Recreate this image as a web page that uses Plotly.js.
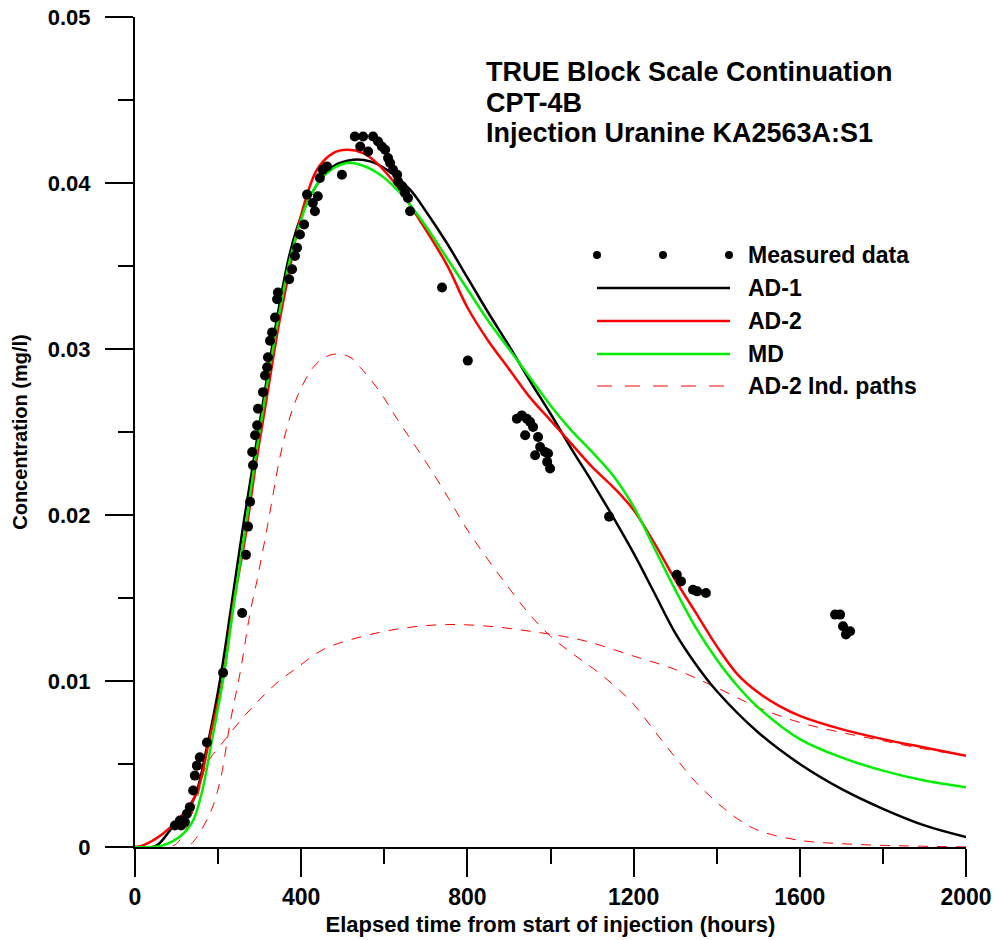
<!DOCTYPE html>
<html>
<head>
<meta charset="utf-8">
<script src="https://cdn.plot.ly/plotly-3.0.1.min.js"></script>
<style>
html,body{margin:0;padding:0;background:#fff;}
#chart{width:994px;height:940px;}
</style>
</head>
<body>
<div id="chart"></div>
<script>
// ---- Data (hours, mg/l) ----
const measuredT = [96,108,111,120,125,132,140,144,149,156,173,212,258,267,272,277,282,284,289,294,296,308,313,318,320,325,330,337,342,344,371,378,385,390,397,407,414,428,433,440,445,452,462,498,529,542,549,561,573,585,594,602,609,614,621,631,633,643,650,657,662,739,801,919,931,939,943,951,958,963,970,975,987,992,994,999,1141,1304,1314,1343,1353,1374,1685,1697,1704,1711,1721];
const measuredC = [0.0013,0.0016,0.0013,0.0015,0.0020,0.0024,0.0034,0.0043,0.0049,0.0054,0.0063,0.0105,0.0141,0.0176,0.0193,0.0208,0.0238,0.0230,0.0248,0.0254,0.0264,0.0274,0.0284,0.0289,0.0295,0.0305,0.0310,0.0319,0.0330,0.0334,0.0342,0.0348,0.0356,0.0361,0.0369,0.0375,0.0393,0.0388,0.0383,0.0392,0.0403,0.0408,0.0410,0.0405,0.0428,0.0422,0.0428,0.0419,0.0428,0.0425,0.0422,0.0420,0.0415,0.0412,0.0408,0.0405,0.0401,0.0398,0.0394,0.0391,0.0383,0.0337,0.0293,0.0258,0.0260,0.0248,0.0258,0.0256,0.0253,0.0236,0.0247,0.0241,0.0238,0.0232,0.0237,0.0228,0.0199,0.0164,0.0160,0.0155,0.0154,0.0153,0.0140,0.0140,0.0133,0.0128,0.0130];

const ad1T = [0,50,90,140,173,205,230,260,290,318,345,373,400,438,477,525,566,606,662,700,750,800,850,900,950,1000,1050,1100,1150,1200,1250,1300,1350,1400,1500,1600,1700,1800,1900,2000];
const ad1C = [0,0.00006,0.0012,0.0028,0.0060,0.0101,0.0142,0.0193,0.0240,0.0283,0.0323,0.0358,0.0380,0.0399,0.0410,0.0414,0.0413,0.0408,0.0396,0.0383,0.0364,0.0343,0.0322,0.0302,0.0281,0.0261,0.0240,0.0220,0.0199,0.0177,0.0153,0.0129,0.0110,0.0094,0.0069,0.0050,0.0035,0.0023,0.0013,0.0006];

const ad2T = [0,19,67,116,149,180,212,236,265,290,318,345,373,397,438,477,510,549,582,631,679,750,800,850,900,950,1000,1050,1100,1150,1200,1250,1300,1350,1400,1450,1500,1550,1600,1700,1800,1900,2000];
const ad2C = [0,0.0001,0.0008,0.0020,0.0033,0.0066,0.0102,0.0145,0.0186,0.0229,0.0272,0.0313,0.0349,0.0378,0.0408,0.0418,0.0420,0.0418,0.0412,0.0398,0.0380,0.0351,0.0325,0.0305,0.0288,0.0271,0.0257,0.0243,0.0229,0.0217,0.0203,0.0183,0.0161,0.0141,0.0121,0.0104,0.0093,0.0085,0.0079,0.0071,0.0065,0.0060,0.0055];

const mdT = [0,67,116,140,161,185,212,240,265,292,320,347,373,400,421,462,510,542,590,638,700,750,800,850,900,950,1000,1050,1100,1150,1200,1250,1300,1350,1400,1450,1500,1600,1700,1800,1900,2000];
const mdC = [0,0.0001,0.0008,0.0016,0.0033,0.0064,0.0101,0.0150,0.0191,0.0238,0.0282,0.0321,0.0354,0.0378,0.0392,0.0406,0.0412,0.0411,0.0405,0.0394,0.0374,0.0355,0.0336,0.0317,0.0300,0.0283,0.0266,0.0251,0.0238,0.0224,0.0205,0.0180,0.0155,0.0132,0.0113,0.0097,0.0084,0.0065,0.0054,0.0046,0.0040,0.0036];

const path1T = [0,120,136,180,205,229,253,277,294,320,349,373,397,429,457,486,518,542,590,633,700,750,800,850,900,950,1000,1050,1100,1150,1200,1250,1300,1350,1400,1450,1500,1600,1700,1800,2000];
const path1C = [0,0,0.0002,0.0020,0.0040,0.0075,0.0105,0.0141,0.0161,0.0195,0.0235,0.0259,0.0275,0.0289,0.0295,0.0297,0.0295,0.0289,0.0274,0.0257,0.0232,0.0212,0.0191,0.0173,0.0156,0.0140,0.0127,0.0117,0.0108,0.0098,0.0086,0.0070,0.0054,0.0039,0.0027,0.0017,0.0010,0.0004,0.0002,0.0001,0];

const path2T = [0,80,100,125,150,173,221,260,293,342,390,453,550,650,750,850,950,1050,1100,1200,1300,1400,1500,1600,1700,1800,1900,2000];
const path2C = [0,0,0.0002,0.0012,0.0030,0.0050,0.0066,0.0078,0.0087,0.0099,0.0108,0.0119,0.0127,0.0132,0.0134,0.0133,0.0130,0.0126,0.0123,0.0115,0.0107,0.0096,0.0084,0.0075,0.0069,0.0064,0.0059,0.0055];

const xTicks = [0,400,800,1200,1600,2000];
const yTicks = [0,0.01,0.02,0.03,0.04,0.05];
const titleLines = ["TRUE Block Scale Continuation","CPT-4B","Injection Uranine KA2563A:S1"];
const legendNames = ["Measured data","AD-1","AD-2","MD","AD-2 Ind. paths"];

// ---- Layout geometry ----
const W = 994, H = 940;
const L = 135, R = 28, T = 17, B = 93;
const PW = W - L - R, PH = H - T - B;
const px = x => (x - L) / PW;          // pixel -> paper x
const py = y => (H - B - y) / PH;      // pixel -> paper y

const BOLD = "Liberation Sans, Arial, sans-serif";

const lineShape = {shape: 'spline', smoothing: 1};
const traces = [
  {x: path1T, y: path1C, mode: 'lines', line: Object.assign({color: '#ff0000', width: 1, dash: '10px,9px'}, lineShape), showlegend: false},
  {x: path2T, y: path2C, mode: 'lines', line: Object.assign({color: '#ff0000', width: 1, dash: '10px,9px'}, lineShape), showlegend: false},
  {x: ad1T, y: ad1C, mode: 'lines', line: Object.assign({color: '#000000', width: 2.5}, lineShape), showlegend: false},
  {x: ad2T, y: ad2C, mode: 'lines', line: Object.assign({color: '#ff0000', width: 2.5}, lineShape), showlegend: false},
  {x: mdT, y: mdC, mode: 'lines', line: Object.assign({color: '#00ee00', width: 2.5}, lineShape), showlegend: false},
  {x: measuredT, y: measuredC, mode: 'markers', marker: {color: '#000000', size: 10}, showlegend: false}
];

// ---- Legend (drawn manually) ----
const legRows = [255, 288, 321, 354, 386];
const legX0 = 597, legX1 = 730, legText = 748;
const shapes = [];
const annotations = [];
[597, 663, 729].forEach(cx => {
  shapes.push({type: 'circle', xref: 'paper', yref: 'paper',
    x0: px(cx - 4), x1: px(cx + 4), y0: py(legRows[0] + 4), y1: py(legRows[0] - 4),
    fillcolor: '#000', line: {width: 0}});
});
const legStyles = [
  {color: '#000000', width: 2.5, dash: 'solid'},
  {color: '#ff0000', width: 2.5, dash: 'solid'},
  {color: '#00ee00', width: 2.5, dash: 'solid'},
  {color: '#ff0000', width: 1, dash: '15px,13px'}
];
legStyles.forEach((st, i) => {
  shapes.push({type: 'line', xref: 'paper', yref: 'paper',
    x0: px(legX0), x1: px(legX1), y0: py(legRows[i + 1]), y1: py(legRows[i + 1]), line: st});
});
legendNames.forEach((name, i) => {
  annotations.push({text: name, xref: 'paper', yref: 'paper', x: px(legText - 2), y: py(legRows[i]),
    xanchor: 'left', yanchor: 'middle', showarrow: false,
    font: {family: BOLD, size: 23, color: '#000', weight: 'bold'}});
});
const titleY = [72, 103, 133];
titleLines.forEach((t, i) => {
  annotations.push({text: t, xref: 'paper', yref: 'paper', x: px(484), y: py(titleY[i]),
    xanchor: 'left', yanchor: 'middle', showarrow: false,
    font: {family: BOLD, size: 27, color: '#000', weight: 'bold'}});
});

const layout = {
  width: W, height: H,
  margin: {l: L, r: R, t: T, b: B, pad: 0},
  paper_bgcolor: '#fff', plot_bgcolor: '#fff',
  showlegend: false,
  xaxis: {
    range: [0, 2000], tickvals: xTicks, ticktext: xTicks.map(String),
    showgrid: false, zeroline: false, showline: true, linecolor: '#000', linewidth: 2,
    ticks: 'outside', ticklen: 28, tickwidth: 2, tickcolor: '#000',
    minor: {dtick: 200, tick0: 0, ticks: 'outside', ticklen: 15, tickwidth: 2, tickcolor: '#000', showgrid: false},
    tickfont: {family: BOLD, size: 23, color: '#000', weight: 'bold'},
    title: {text: 'Elapsed time from start of injection (hours)', standoff: 8,
      font: {family: BOLD, size: 22, color: '#000', weight: 'bold'}},
    automargin: false, fixedrange: true
  },
  yaxis: {
    range: [0, 0.05], tickvals: yTicks, ticktext: yTicks.map(v => v === 0 ? '0' : v.toFixed(2)),
    showgrid: false, zeroline: false, showline: true, linecolor: '#000', linewidth: 2,
    ticks: 'outside', ticklen: 28, tickwidth: 2, tickcolor: '#000', ticklabelstandoff: 10,
    minor: {dtick: 0.005, tick0: 0, ticks: 'outside', ticklen: 15, tickwidth: 2, tickcolor: '#000', showgrid: false},
    tickfont: {family: BOLD, size: 22, color: '#000', weight: 'bold'},
    title: {text: 'Concentration (mg/l)', standoff: 15,
      font: {family: BOLD, size: 20, color: '#000', weight: 'bold'}},
    automargin: false, fixedrange: true
  },
  shapes: shapes,
  annotations: annotations
};

Plotly.newPlot('chart', traces, layout, {displayModeBar: false, staticPlot: true});
</script>
</body>
</html>
